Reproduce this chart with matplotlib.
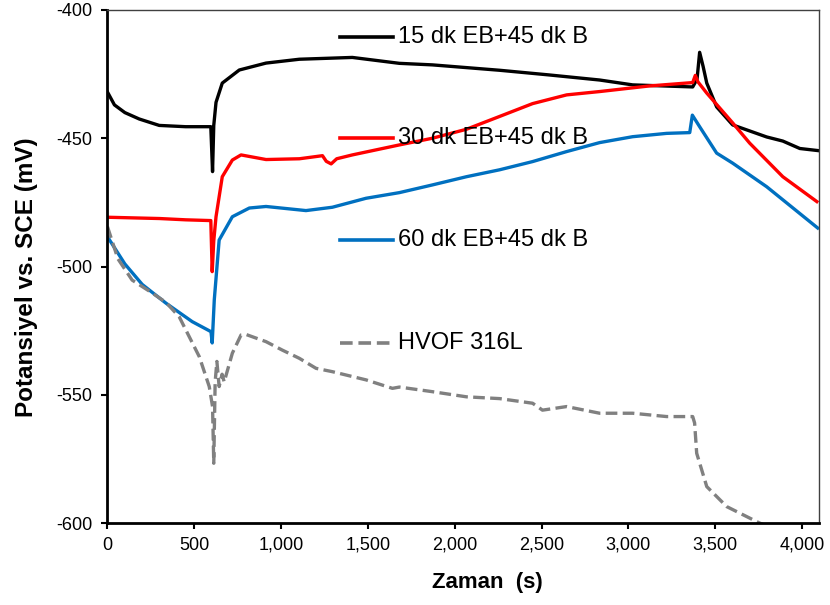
import numpy as np
import matplotlib.pyplot as plt

plt.rcParams['font.family'] = ['Liberation Sans', 'DejaVu Sans']
plt.rcParams['axes.unicode_minus'] = False

# open-circuit potential readings (time in s, potential in mV vs SCE)
t_15 = [0, 40, 100, 183, 298, 450, 595, 605, 612, 625, 661, 759, 913, 1105,
        1410, 1681, 1871, 2258, 2540, 2834, 3024, 3370, 3395, 3410, 3430,
        3451, 3508, 3600, 3796, 3889, 3987, 4090]
e_15 = [-432, -437, -440, -442.5, -445, -445.5, -445.5, -463, -445, -436,
        -428.5, -423.4, -420.7, -419.2, -418.5, -420.8, -421.4, -423.5,
        -425.3, -427.3, -429.2, -430, -427, -416.5, -422, -428.5, -437.8,
        -444.8, -449.5, -451.1, -454, -454.8]

t_30 = [0, 300, 450, 595, 603, 612, 625, 661, 719, 769, 913, 1105, 1238,
        1260, 1288, 1320, 1410, 1681, 1871, 2067, 2258, 2448, 2644, 2834,
        3122, 3370, 3385, 3400, 3451, 3600, 3698, 3889, 4085]
e_30 = [-480.8, -481.3, -481.8, -482.1, -502, -490, -480.6, -465, -458.5,
        -456.5, -458.3, -458, -456.8, -459, -460, -458, -456.5, -452.6,
        -450, -446.5, -441.5, -436.5, -433.1, -431.8, -429.6, -428.3,
        -425.5, -428, -432.4, -444, -451.9, -465, -474.7]

t_60 = [0, 100, 200, 337, 488, 596, 603, 615, 643, 719, 817, 913, 1143,
        1295, 1489, 1681, 1871, 2067, 2258, 2448, 2644, 2834, 3024, 3220,
        3353, 3368, 3410, 3508, 3600, 3796, 4090]
e_60 = [-488.4, -499, -507, -514.3, -521.5, -525.4, -529.8, -513, -489.7,
        -480.6, -477.2, -476.6, -478.2, -476.9, -473.4, -471.2, -468.2,
        -465, -462.3, -459.1, -455.2, -451.7, -449.4, -448.1, -447.8, -441,
        -445.5, -455.8, -459.7, -468.9, -485]

t_hvof = [0, 60, 142, 250, 337, 413, 529, 586, 605, 612, 620, 630, 643, 660,
          672, 719, 769, 798, 913, 1007, 1105, 1201, 1295, 1489, 1641, 1681,
          1871, 2067, 2258, 2448, 2505, 2644, 2834, 3024, 3220, 3370, 3381,
          3393, 3451, 3566, 3755, 3900, 4090]
e_hvof = [-484.5, -497, -505.3, -510, -514, -519.6, -535.2, -546.8, -554.6,
          -576.7, -545, -537, -546.8, -542, -545, -533.8, -526.7, -526.5,
          -529.3, -532.6, -535.8, -539.7, -541, -544.2, -547.5, -547, -548.8,
          -550.8, -551.5, -553.3, -556, -554.6, -557.2, -557.2, -558.5,
          -558.5, -561, -572.8, -585.8, -593.6, -600, -604, -608]

labels = ['15 dk EB+45 dk B', '30 dk EB+45 dk B', '60 dk EB+45 dk B', 'HVOF 316L']
colors = ['#000000', '#ff0000', '#0070c0', '#808080']
styles = ['-', '-', '-', (0, (3.5, 1.6))]

fig = plt.figure(figsize=(8.3, 6.05), dpi=100)
ax = fig.add_axes([0.1295, 0.1355, 0.8578, 0.848])

series = [(t_15, e_15), (t_30, e_30), (t_60, e_60), (t_hvof, e_hvof)]
for (t, e), c, ls in zip(series, colors, styles):
    ax.plot(t, e, color=c, ls=ls, lw=2.4, solid_joinstyle='round')

# legend entries spread down the middle of the plot
rows = [0.947, 0.7505, 0.5517, 0.351]
for y, lab, c, ls in zip(rows, labels, colors, styles):
    ax.plot([0.3265, 0.401], [y, y], transform=ax.transAxes, color=c,
            ls=ls, lw=2.6, clip_on=False)
    ax.text(0.408, y, lab, transform=ax.transAxes, fontsize=17,
            va='center', ha='left')

ax.set_xlim(0, 4100)
ax.set_ylim(-600, -400)
ax.set_xticks(np.arange(0, 4001, 500))
ax.set_xticklabels([f'{v:,}' for v in range(0, 4001, 500)])
ax.set_yticks(np.arange(-600, -399, 50))
ax.tick_params(direction='out', length=4, width=1.5, labelsize=13,
               colors='black')
ax.tick_params(axis='y', pad=7)
ax.tick_params(axis='x', pad=6)

for side in ['left', 'bottom']:
    ax.spines[side].set_linewidth(2)
for side in ['top', 'right']:
    ax.spines[side].set_linewidth(1)
    ax.spines[side].set_color('#404040')

ax.set_xlabel('Zaman  (s)', fontsize=16, fontweight='bold')
ax.set_ylabel('Potansiyel vs. SCE (mV)', fontsize=17.5, fontweight='bold')
ax.xaxis.set_label_coords(0.534, -0.0955)
ax.yaxis.set_label_coords(-0.0976, 0.4786)

fig.savefig('out.png', dpi=100)
